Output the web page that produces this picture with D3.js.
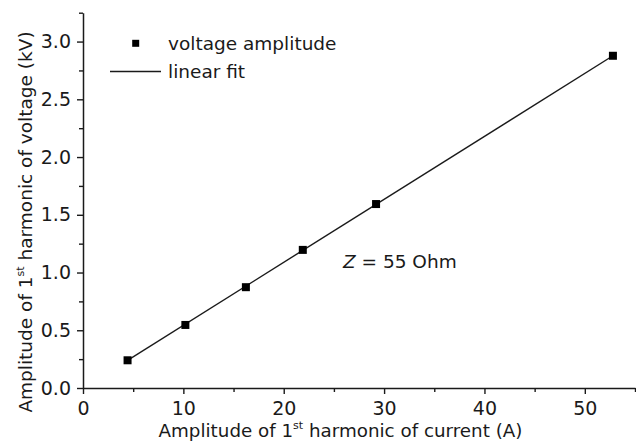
<!DOCTYPE html>
<html>
<head>
<meta charset="utf-8">
<script src="https://cdn.jsdelivr.net/npm/d3@7"></script>
<style>
  html, body { margin: 0; padding: 0; background: #fff; }
  svg { display: block; font-family: "DejaVu Sans", Verdana, sans-serif; }
</style>
</head>
<body>
<svg id="chart" width="636" height="446"></svg>
<script>
// ---- data ----
const currentA = [4.44, 10.2, 16.23, 21.9, 29.2, 52.8];
const voltageKV = [0.24, 0.546, 0.873, 1.196, 1.593, 2.877];
const fitX = [4.44, 52.8];
const fitY = [0.24, 2.877];
const xMajorTicks = [0, 10, 20, 30, 40, 50];
const xMinorTicks = [5, 15, 25, 35, 45, 55];
const yMajorTicks = [0.0, 0.5, 1.0, 1.5, 2.0, 2.5, 3.0];
const yMinorTicks = [0.25, 0.75, 1.25, 1.75, 2.25, 2.75, 3.25];
const legendLabels = ["voltage amplitude", "linear fit"];

const svg = d3.select("#chart");
const x = d3.scaleLinear().domain([0, 55]).range([83, 635]);
const y = d3.scaleLinear().domain([0, 3.25]).range([388, 12.7]);
const ink = "#1a1a1a";

// minor ticks
svg.append("g").attr("transform", "translate(0,388)")
  .call(d3.axisBottom(x).tickValues(xMinorTicks).tickSize(4).tickSizeOuter(0).tickFormat(""))
  .call(g => g.select(".domain").remove());
svg.append("g").attr("transform", "translate(83,0)")
  .call(d3.axisLeft(y).tickValues(yMinorTicks).tickSize(4).tickSizeOuter(0).tickFormat(""))
  .call(g => g.select(".domain").remove());

// major axes
svg.append("g").attr("transform", "translate(0,388)")
  .call(d3.axisBottom(x).tickValues(xMajorTicks).tickSize(6).tickSizeOuter(0).tickPadding(8).tickFormat(d3.format("d")));
svg.append("g").attr("transform", "translate(83,0)")
  .call(d3.axisLeft(y).tickValues(yMajorTicks).tickSize(6).tickSizeOuter(0).tickPadding(6).tickFormat(d3.format(".1f")));

svg.selectAll(".tick line").attr("stroke", ink).attr("stroke-width", 1.4);
svg.selectAll(".domain").attr("stroke", ink).attr("stroke-width", 1.5);
svg.selectAll(".tick text").attr("font-family", "DejaVu Sans").attr("font-size", 19).attr("fill", ink);

// fit line
svg.append("path")
  .datum(fitX.map((v, i) => [v, fitY[i]]))
  .attr("d", d3.line().x(d => x(d[0])).y(d => y(d[1])))
  .attr("fill", "none").attr("stroke", ink).attr("stroke-width", 1.4);

// points
const s = 8;
svg.append("g").selectAll("rect")
  .data(currentA.map((v, i) => [v, voltageKV[i]]))
  .join("rect")
  .attr("x", d => x(d[0]) - s / 2)
  .attr("y", d => y(d[1]) - s / 2)
  .attr("width", s).attr("height", s)
  .attr("fill", "#000");

// legend
const lg = svg.append("g");
lg.append("rect").attr("x", 132.2).attr("y", 39.8).attr("width", 7).attr("height", 7).attr("fill", "#000");
lg.append("text").attr("x", 168).attr("y", 50).attr("font-size", 18.5).attr("fill", ink).text(legendLabels[0]);
lg.append("line").attr("x1", 110).attr("x2", 161).attr("y1", 71.5).attr("y2", 71.5).attr("stroke", ink).attr("stroke-width", 1.4);
lg.append("text").attr("x", 168).attr("y", 78).attr("font-size", 18.5).attr("fill", ink).text(legendLabels[1]);

// annotation
const ann = svg.append("text").attr("x", 343).attr("y", 268).attr("font-size", 18.5).attr("fill", ink);
ann.append("tspan").attr("font-style", "italic").text("Z");
ann.append("tspan").text(" = 55 Ohm");

// x title
const xt = svg.append("text").attr("x", 340.5).attr("y", 437).attr("text-anchor", "middle")
  .attr("font-size", 18.3).attr("fill", ink);
xt.append("tspan").text("Amplitude of 1");
xt.append("tspan").attr("font-size", 11).attr("dy", -8).text("st");
xt.append("tspan").attr("dy", 8).text(" harmonic of current (A)");

// y title
const yt = svg.append("text").attr("transform", "translate(32,222) rotate(-90)").attr("text-anchor", "middle")
  .attr("font-size", 18.5).attr("fill", ink);
yt.append("tspan").text("Amplitude of 1");
yt.append("tspan").attr("font-size", 11).attr("dy", -8).text("st");
yt.append("tspan").attr("dy", 8).text(" harmonic of voltage (kV)");
</script>
</body>
</html>
